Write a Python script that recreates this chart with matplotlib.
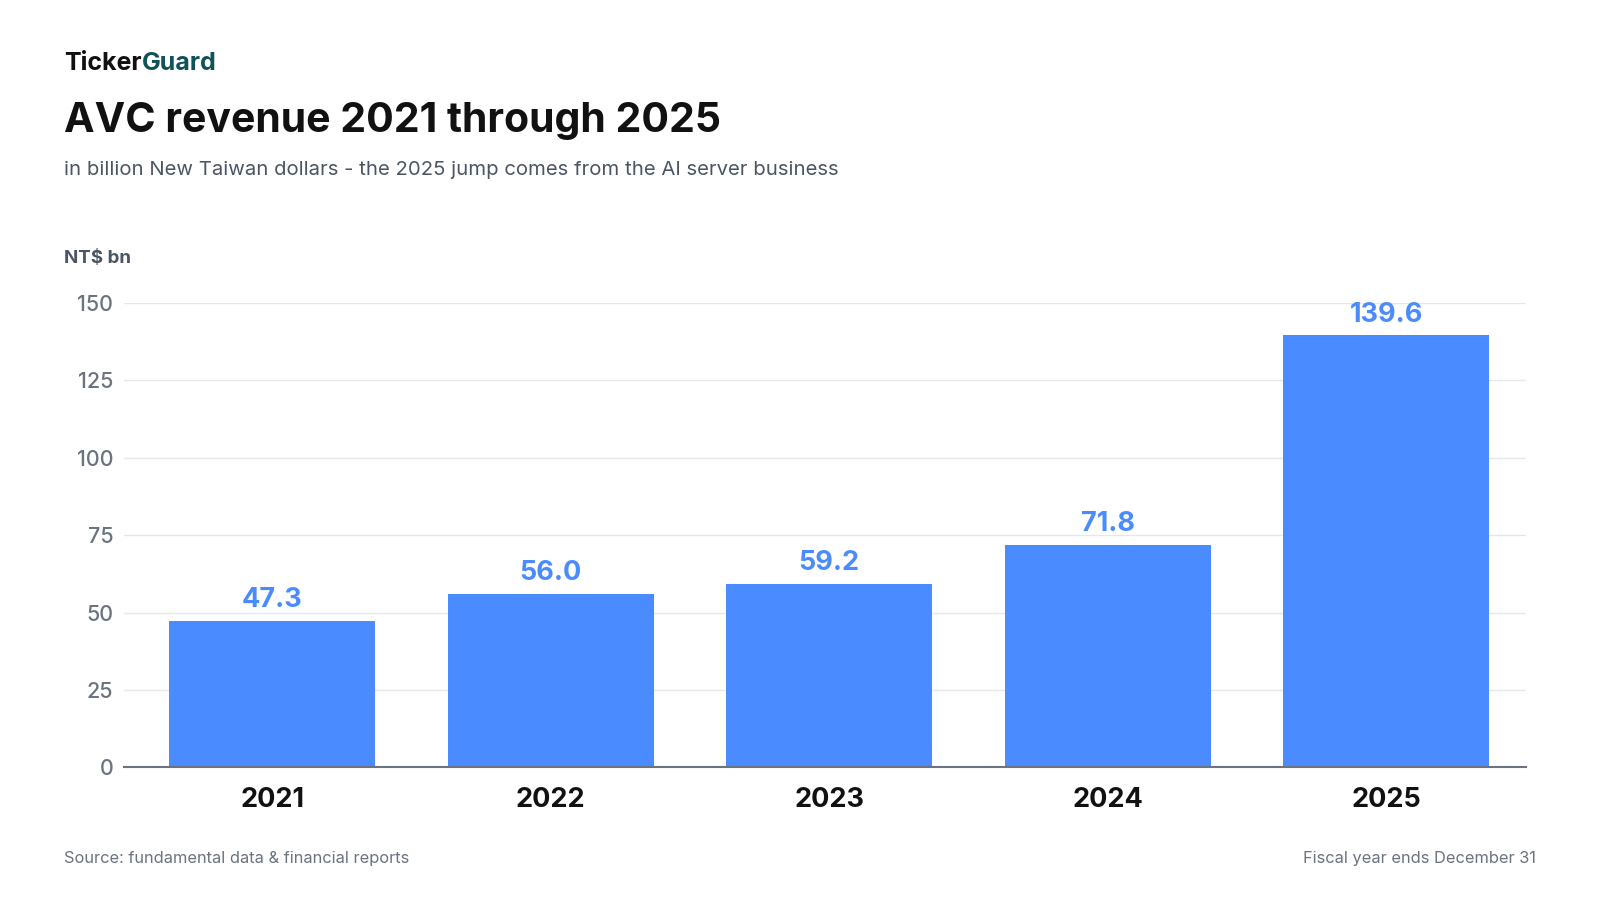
import matplotlib
matplotlib.use("Agg")
import matplotlib.pyplot as plt

plt.rcParams['font.family'] = ['Inter', 'DejaVu Sans']

years = ["2021", "2022", "2023", "2024", "2025"]
revenue = [47.3, 56.0, 59.2, 71.8, 139.6]
yticks = [0, 25, 50, 75, 100, 125, 150]

BAR = "#4A8BFF"
GREY = "#6B7280"
W, H = 1568, 882  # reference layout measured in this pixel space

fig = plt.figure(figsize=(16, 9), dpi=100)
ax = fig.add_axes([122/W, 1-752/H, (1495-122)/W, (752-297)/H])

x = range(len(years))
ax.bar(x, revenue, width=0.74, color=BAR, zorder=3)
for xi, v in zip(x, revenue):
    ax.text(xi, v + 2.5, f"{v:.1f}", ha="center", va="bottom", fontsize=19.5,
            fontweight="bold", color=BAR)

ax.set_xlim(-0.53, 4.5)
ax.set_ylim(0, 150)
ax.set_yticks(yticks)
ax.set_yticklabels([str(t) for t in yticks], fontsize=15.5, color=GREY,
                   fontweight="medium")
ax.set_xticks(list(x))
ax.set_xticklabels(years, fontsize=19.5, fontweight="bold", color="#111111")
ax.tick_params(axis="y", length=0, pad=8)
ax.tick_params(axis="x", length=0, pad=14)
ax.grid(axis="y", color="#E5E7EB", linewidth=1, zorder=0)
for s in ["top", "right", "left"]:
    ax.spines[s].set_visible(False)
ax.spines["bottom"].set_color("#6B7280")
ax.spines["bottom"].set_linewidth(1.5)
ax.spines["bottom"].set_zorder(4)

t = fig.text(63/W, 1-62/H, "Ticker", fontsize=18, fontweight="bold",
             color="#111111", va="center")
fig.canvas.draw()
bb = t.get_window_extent()
fig.text(bb.x1/1600, 1-62/H, "Guard", fontsize=18, fontweight="bold",
         color="#0F5257", va="center")
fig.text(63/W, 1-119/H, "AVC revenue 2021 through 2025", fontsize=29.5,
         fontweight="bold", color="#111111", va="center")
fig.text(63/W, 1-167/H,
         "in billion New Taiwan dollars - the 2025 jump comes from the AI server business",
         fontsize=14.6, color="#4B5563", va="center")
fig.text(63/W, 1-253/H, "NT$ bn", fontsize=13.5, fontweight="bold",
         color="#4B5563", va="center")
fig.text(63/W, 1-841/H, "Source: fundamental data & financial reports",
         fontsize=11.8, color=GREY, va="center")
fig.text(1505/W, 1-841/H, "Fiscal year ends December 31",
         fontsize=11.8, color=GREY, va="center", ha="right")

fig.savefig("out.png", dpi=100, facecolor="white")
